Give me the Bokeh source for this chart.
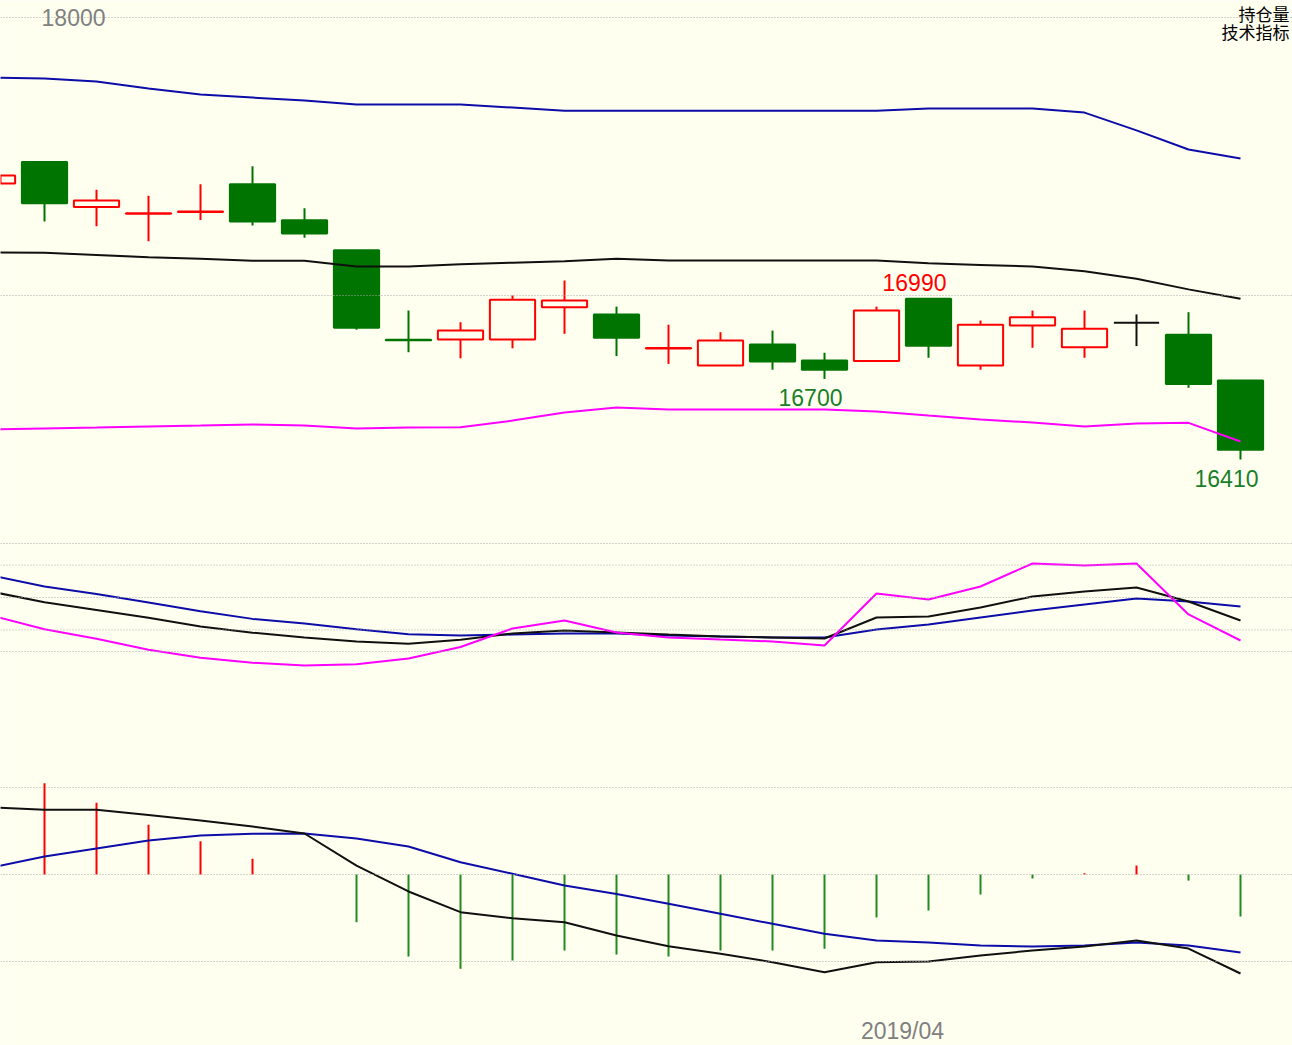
from bokeh.plotting import figure
from bokeh.models import Range1d, Span, Label, ColumnDataSource
from bokeh.embed import file_html
from bokeh.resources import INLINE
from bokeh.core.properties import value

# ---------------- data ----------------
idx = list(range(-1, 24))

open_ = [17403, 17480, 17318, 17294, 17300, 17400, 17271, 17163, 16841, 16842,
         16842, 16958, 16932, 16809, 16748, 16824, 16766, 16764, 16988, 16748,
         16892, 16814, 16902, 16859, 16694]
high = [17440, 17480, 17380, 17359, 17400, 17465, 17314, 17163, 16946, 16904,
        17000, 17054, 16960, 16895, 16868, 16874, 16794, 16960, 16990, 16910,
        16946, 16946, 16932, 16940, 16694]
low = [17395, 17266, 17249, 17195, 17272, 17252, 17208, 16877, 16796, 16774,
       16810, 16862, 16782, 16754, 16748, 16733, 16700, 16764, 16776, 16733,
       16812, 16776, 16818, 16668, 16410]
close = [17432, 17332, 17342, 17296, 17302, 17266, 17223, 16884, 16839, 16874,
         16985, 16982, 16848, 16811, 16838, 16763, 16733, 16946, 16819, 16895,
         16922, 16880, 16902, 16682, 16445]

boll_upper = [17784, 17781, 17770, 17745, 17723, 17712, 17701, 17687, 17687, 17687,
              17676, 17665, 17665, 17665, 17665, 17665, 17665, 17665, 17673, 17673,
              17673, 17658, 17594, 17525, 17493]
boll_mid = [17155, 17154, 17146, 17138, 17132, 17125, 17125, 17104, 17104, 17112,
            17118, 17123, 17132, 17126, 17126, 17126, 17126, 17126, 17116, 17110,
            17104, 17087, 17060, 17022, 16988]
boll_lower = [16518, 16522, 16525, 16529, 16532, 16536, 16532, 16522, 16525, 16526,
              16550, 16579, 16597, 16590, 16590, 16590, 16590, 16583, 16568, 16554,
              16543, 16529, 16540, 16542, 16475]

kdj_k = [55.2, 45.7, 38.5, 31.3, 23.1, 17.4, 13.0, 9.3, 7.2, 10.9,
         16.7, 19.4, 17.6, 15.7, 13.9, 13.0, 12.0, 31.5, 32.4, 40.7,
         50.9, 55.6, 59.3, 46.3, 28.7]
kdj_d = [70.1, 60.2, 53.3, 45.4, 37.3, 30.2, 25.9, 20.7, 16.0, 14.8,
         15.7, 16.7, 16.7, 14.8, 13.9, 13.0, 13.0, 20.4, 25.0, 31.5,
         38.0, 43.5, 49.1, 46.3, 41.7]
kdj_j = [33.1, 20.6, 11.8, 1.7, -5.8, -10.4, -13.0, -11.9, -6.4, 4.2,
         21.3, 28.7, 17.6, 13.0, 11.1, 9.3, 5.6, 53.7, 48.1, 60.2,
         81.5, 79.6, 81.5, 34.3, 10.2]

macd_dif = [77.0, 74.4, 74.4, 68.4, 62.1, 55.2, 47.1, 10.3, -19.5, -43.3,
            -50.2, -54.8, -70.1, -82.4, -91.1, -100.8, -112.3, -100.8, -100.0, -93.1,
            -87.4, -82.8, -75.9, -85.1, -113.8]
macd_dea = [8.3, 20.7, 29.9, 39.1, 44.8, 46.8, 47.1, 41.4, 32.2, 14.1,
            0.8, -12.6, -22.4, -33.7, -45.2, -56.7, -68.2, -75.9, -78.2, -81.6,
            -82.8, -81.6, -78.2, -81.6, -89.7]
macd_bar = [133, 105, 82.4, 57.1, 38.3, 18.0, 0, -54.8, -94.3, -108.4,
            -98.9, -87.4, -92.0, -94.3, -87.4, -87.4, -85.4, -49.4, -41.4, -23.0,
            -4.6, 1.5, 10.3, -7.0, -48.3]

price_grid = [18000, 17000]
kdj_grid = [100, 80, 50, 20, 0]
macd_grid = [100, 0, -100]

high_mark_idx = [17]
low_mark_idx = [15, 23]

date_tick_idx = [16.5]
date_tick_label = ["2019/04"]

header_lines = ["持仓量", "技术指标"]

# ---------------- styling / layout ----------------
BG = "#fffff0"
RED = "#ff0000"
GREEN = "#007400"
BAR_GREEN = "#1e8c1e"
BLUE = "#0c0ca8"
MAGENTA = "#ff00ff"
BLACK = "#101010"
GRID = "#a8a8a8"
FONT = "Liberation Sans"

W, H = 1292, 1045


def vrange(ref_val, ref_px, ppu):
    top = ref_val + ref_px / ppu
    bottom = ref_val - (H - ref_px) / ppu
    return Range1d(bottom, top)


slot = 52.0
first_px = 44.0
x0 = -first_px / slot
x_range = Range1d(x0, x0 + W / slot)

p = figure(width=W, height=H, output_backend="svg", toolbar_location=None,
           x_range=x_range, y_range=vrange(17000, 295, 0.278),
           x_axis_location=None, y_axis_location=None,
           min_border=0, min_border_left=0, min_border_right=0,
           min_border_top=0, min_border_bottom=0,
           background_fill_color=BG, border_fill_color=BG,
           outline_line_color=None)
p.grid.visible = False
p.extra_y_ranges = {"kdj": vrange(0, 651, 1.08), "macd": vrange(0, 874, 0.87)}

# grid lines
for v in price_grid:
    p.add_layout(Span(location=v, dimension="width", line_color=GRID,
                      line_dash="1 2", line_width=1))
for v in kdj_grid:
    p.add_layout(Span(location=v, dimension="width", line_color=GRID,
                      line_dash="1 2", line_width=1, y_range_name="kdj"))
for v in macd_grid:
    p.add_layout(Span(location=v, dimension="width", line_color=GRID,
                      line_dash="1 2", line_width=1, y_range_name="macd"))

# ---------------- candles ----------------
colors, fills = [], []
for o, c in zip(open_, close):
    if c > o:
        colors.append(RED); fills.append(BG)
    elif c < o:
        colors.append(GREEN); fills.append(GREEN)
    else:
        colors.append(BLACK); fills.append(BLACK)

src = ColumnDataSource(dict(
    x=idx, high=high, low=low,
    top=[max(o, c) for o, c in zip(open_, close)],
    bottom=[min(o, c) for o, c in zip(open_, close)],
    color=colors, fill=fills))

p.segment(x0="x", y0="low", x1="x", y1="high", source=src,
          line_color="color", line_width=2)
p.vbar(x="x", width=0.87, top="top", bottom="bottom", source=src,
       fill_color="fill", line_color="color", line_width=2)

# BOLL lines
p.line(idx, boll_upper, line_color=BLUE, line_width=2)
p.line(idx, boll_mid, line_color=BLACK, line_width=2)
p.line(idx, boll_lower, line_color=MAGENTA, line_width=2)

# high / low markers
p.text(x=high_mark_idx, y=[high[idx.index(i)] for i in high_mark_idx],
       text=[str(high[idx.index(i)]) for i in high_mark_idx],
       text_color=RED, text_font=value(FONT), text_font_size="23px",
       text_align="center", text_baseline="middle",
       x_offset=-14, y_offset=-16)
p.text(x=low_mark_idx, y=[low[idx.index(i)] for i in low_mark_idx],
       text=[str(low[idx.index(i)]) for i in low_mark_idx],
       text_color="#1a7f2a", text_font=value(FONT), text_font_size="23px",
       text_align="center", text_baseline="middle",
       x_offset=-14, y_offset=19)

# price grid label
p.add_layout(Label(x=105, x_units="screen", y=price_grid[0], text=str(price_grid[0]),
                   text_align="right", text_baseline="middle",
                   text_font=FONT, text_font_size="23px", text_color="#808080"))

# header texts (top right)
for k, t in enumerate(header_lines):
    p.add_layout(Label(x=W - 3, y=H - 13 - 18 * k, x_units="screen", y_units="screen",
                       text=t, text_align="right", text_baseline="middle",
                       text_font="Noto Sans CJK SC", text_font_size="17px",
                       text_color="#000000"))

# ---------------- KDJ ----------------
p.line(idx, kdj_d, line_color=BLUE, line_width=2, y_range_name="kdj")
p.line(idx, kdj_k, line_color=BLACK, line_width=2, y_range_name="kdj")
p.line(idx, kdj_j, line_color=MAGENTA, line_width=2, y_range_name="kdj")

# ---------------- MACD ----------------
bar_src = ColumnDataSource(dict(
    x=idx, zero=[0] * len(idx), v=macd_bar,
    color=[RED if b > 0 else BAR_GREEN for b in macd_bar]))
p.segment(x0="x", y0="zero", x1="x", y1="v", source=bar_src,
          line_color="color", line_width=2, y_range_name="macd")
p.line(idx, macd_dea, line_color=BLUE, line_width=2, y_range_name="macd")
p.line(idx, macd_dif, line_color=BLACK, line_width=2, y_range_name="macd")

# date tick
for xi, lab in zip(date_tick_idx, date_tick_label):
    p.add_layout(Label(x=xi, y=15, y_units="screen", text=lab,
                       text_align="center", text_baseline="middle",
                       text_font=FONT, text_font_size="23px",
                       text_color="#808080"))

open("out.html", "w").write(file_html(p, INLINE))
